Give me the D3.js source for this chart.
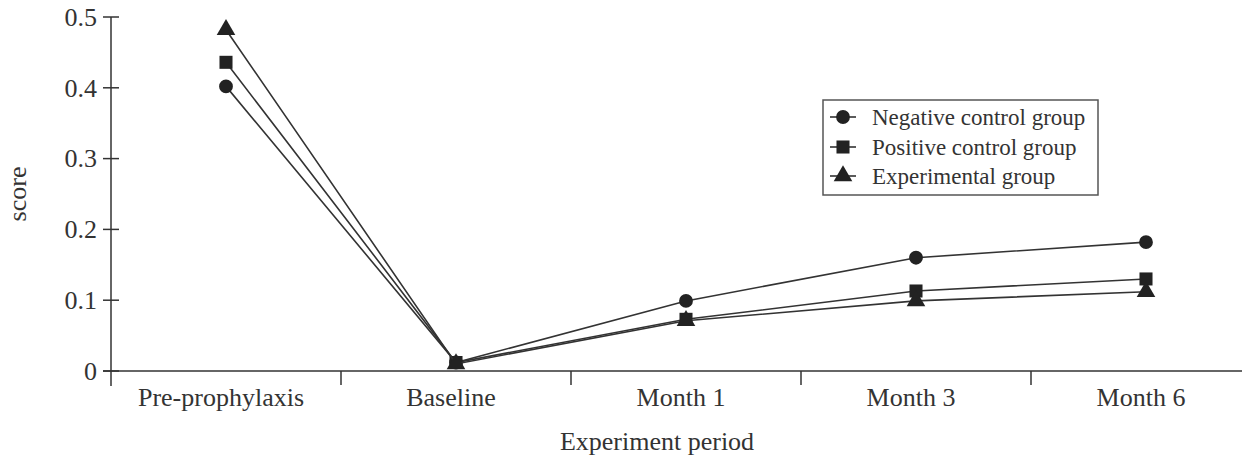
<!DOCTYPE html>
<html>
<head>
<meta charset="utf-8">
<script src="https://cdn.jsdelivr.net/npm/d3@7"></script>
<style>
  body { margin: 0; background: #fff; }
  text { font-family: "Liberation Serif", "Times New Roman", serif; fill: #333; }
</style>
</head>
<body>
<script>
// data
const periods = ["Pre-prophylaxis", "Baseline", "Month 1", "Month 3", "Month 6"];
const negativeControl = [0.402, 0.012, 0.099, 0.160, 0.182];
const positiveControl = [0.436, 0.012, 0.073, 0.113, 0.130];
const experimental = [0.482, 0.010, 0.071, 0.099, 0.112];
const seriesNames = ["Negative control group", "Positive control group", "Experimental group"];
const yTicks = [0, 0.1, 0.2, 0.3, 0.4, 0.5];

const width = 1257;
const height = 465;
const ink = "#333";

const svg = d3.select("body")
    .append("svg")
    .attr("width", width)
    .attr("height", height);

const x = d3.scaleBand()
    .domain(periods)
    .range([111, 1261]);

const y = d3.scaleLinear()
    .domain([0, 0.5])
    .range([371, 17]);

// y axis
const yAxis = svg.append("g");
yAxis.append("line")
    .attr("x1", 111).attr("x2", 111)
    .attr("y1", y(0.5)).attr("y2", 386)
    .attr("stroke", ink).attr("stroke-width", 1.5);

yAxis.selectAll(".ytick")
    .data(yTicks)
    .enter().append("line")
    .attr("x1", 103).attr("x2", 119)
    .attr("y1", d => y(d)).attr("y2", d => y(d))
    .attr("stroke", ink).attr("stroke-width", 1.5);

yAxis.selectAll(".ylab")
    .data(yTicks)
    .enter().append("text")
    .attr("x", 97)
    .attr("y", d => y(d))
    .attr("dy", "0.34em")
    .attr("text-anchor", "end")
    .style("font-size", "26px")
    .text(d => d === 0 ? "0" : d3.format(".1f")(d));

svg.append("text")
    .attr("transform", "translate(26," + y(0.25) + ") rotate(-90)")
    .attr("text-anchor", "middle")
    .style("font-size", "26px")
    .text("score");

// x axis
const xAxis = svg.append("g");
xAxis.append("line")
    .attr("x1", 103).attr("x2", 1242)
    .attr("y1", y(0)).attr("y2", y(0))
    .attr("stroke", ink).attr("stroke-width", 1.5);

xAxis.selectAll(".xtick")
    .data(periods.slice(1))
    .enter().append("line")
    .attr("x1", d => x(d)).attr("x2", d => x(d))
    .attr("y1", y(0)).attr("y2", y(0) + 14)
    .attr("stroke", ink).attr("stroke-width", 1.5);

xAxis.selectAll(".xlab")
    .data(periods)
    .enter().append("text")
    .attr("x", d => x(d) + x.bandwidth() / 2 - 5)
    .attr("y", 406)
    .attr("text-anchor", "middle")
    .style("font-size", "26px")
    .text(d => d);

svg.append("text")
    .attr("x", 657)
    .attr("y", 450)
    .attr("text-anchor", "middle")
    .style("font-size", "26px")
    .text("Experiment period");

// lines + markers
const allSeries = [negativeControl, positiveControl, experimental];
const symbols = [d3.symbolCircle, d3.symbolSquare, d3.symbolTriangle];
const symbolSizes = [150, 170, 150];

const line = d3.line()
    .x((d, i) => x(periods[i]) + x.bandwidth() / 2)
    .y(d => y(d));

allSeries.forEach(function (vals, s) {
    svg.append("path")
        .attr("d", line(vals))
        .attr("fill", "none")
        .attr("stroke", ink)
        .attr("stroke-width", 1.6);

    svg.selectAll(".m" + s)
        .data(vals)
        .enter().append("path")
        .attr("transform", (d, i) => "translate(" + (x(periods[i]) + x.bandwidth() / 2) + "," + y(d) + ")")
        .attr("d", d3.symbol().type(symbols[s]).size(symbolSizes[s]))
        .attr("fill", "#222");
});

// legend
const legend = svg.append("g");
legend.append("rect")
    .attr("x", 823).attr("y", 100)
    .attr("width", 275).attr("height", 95)
    .attr("fill", "#fff")
    .attr("stroke", "#555").attr("stroke-width", 1.5);

const rowY = [117, 147, 176];
seriesNames.forEach(function (name, s) {
    legend.append("line")
        .attr("x1", 830).attr("x2", 856)
        .attr("y1", rowY[s]).attr("y2", rowY[s])
        .attr("stroke", ink).attr("stroke-width", 1.6);
    legend.append("path")
        .attr("transform", "translate(843," + rowY[s] + ")")
        .attr("d", d3.symbol().type(symbols[s]).size(symbolSizes[s]))
        .attr("fill", "#222");
    legend.append("text")
        .attr("x", 872)
        .attr("y", rowY[s])
        .attr("dy", "0.34em")
        .style("font-size", "23px")
        .text(name);
});
</script>
</body>
</html>
